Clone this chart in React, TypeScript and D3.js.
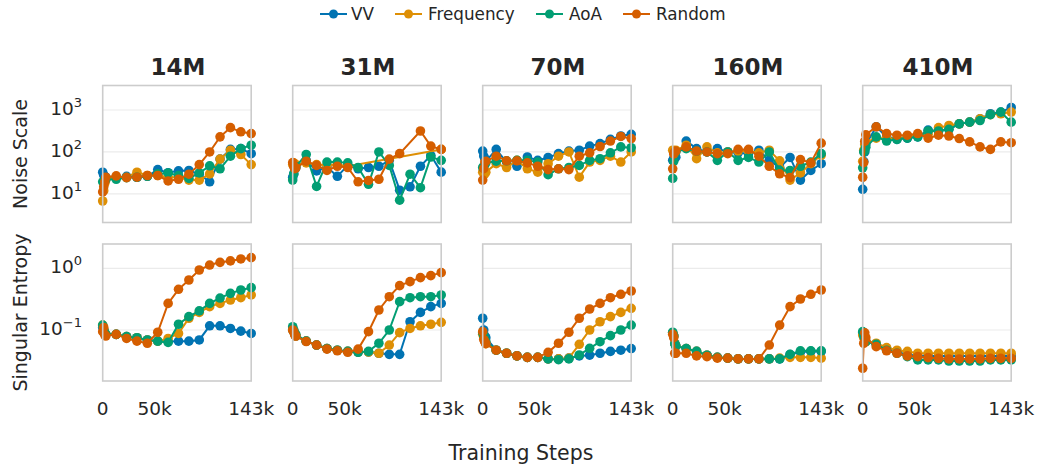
import React from 'react';
import * as d3 from 'd3';

const steps = [0, 1000, 2000, 3000, 13000, 23000, 33000, 43000, 53000, 63000, 73000, 83000, 93000, 103000, 113000, 123000, 133000, 143000];
const models = ['14M', '31M', '70M', '160M', '410M'];
const seriesNames = ['VV', 'Frequency', 'AoA', 'Random'];
const seriesColors = ['#0173b2', '#de8f05', '#029e73', '#d55e00'];
const xTickValues = [0, 50000, 143000];
const xTickLabels = ['0', '50k', '143k'];
const noiseTicks = [10, 100, 1000];
const noiseTickExp = ['1', '2', '3'];
const entropyTicks = [0.1, 1];
const entropyTickExp = ['\u22121', '0'];

type V = number | null;

// Noise scale, one row per model (14M, 31M, 70M, 160M, 410M)
const noiseVV: V[][] = [
  [33, 28, 26, 25, 24.5, 26.3, 25, 26.3, 38, 32, 35.5, 36.3, 29.5, 19.5, 67.6, 115, 120, 91],
  [25.1, 30, 40, 42, 63.1, 35.5, 43.7, 26.3, 47.9, 39.8, 42.7, 45.7, 63.1, 12.3, 14.8, 45.7, 83.2, 33.1],
  [105, 80, 70, 60, 115, 57.5, 45.7, 75.9, 63.1, 74.1, 91.2, 105, 110, 138, 158, 200, 240, 263],
  [63.1, 70, 80, 75, 182, 120, 100, 120, 100, 95.5, 91.2, 110, 63.1, 42.7, 74.1, 21.4, 36.3, 52.5],
  [12.9, 60, 100, 150, 398, 229, 200, 214, 229, 331, 316, 347, 468, 513, 617, 813, 891, 1148],
];
const noiseFreq: V[][] = [
  [6.8, 12, 18, 22, 25, 25, 33, 27.5, 27.5, 25, 25, 21.4, 21.4, 30, 67.6, 110, 87, 50],
  [50, 55, 52, 50, 55, 50, 48, 50, 46, null, null, null, null, null, null, null, null, 115],
  [33, 35, 30, 33, 52.5, 42.7, 63.1, 39.8, 33.1, 52.5, 79.4, 100, 25.1, 57.5, 63.1, 79.4, 57.5, 100],
  [110, 100, 105, 110, 145, 69.2, 132, 95.5, 100, 105, 105, 95.5, 110, 61.7, 21.4, 31.6, 52.5, 83.2],
  [60, 110, 150, 170, 214, 209, 209, 234, 251, 263, 380, 427, 468, 513, 617, 776, 813, 891],
];
const noiseAoA: V[][] = [
  [19.5, 20, 21, 22, 22.4, 24.5, 25, 26.3, 30, 31.6, 27.5, 23.4, 31.6, 46.8, 39.8, 79.4, 120, 145],
  [21.4, 30, 40, 45, 87, 15.1, 57.5, 57.5, 55, 42.7, 17, 100, 47.9, 7.1, 29.5, 14.1, 75.9, 63.1],
  [42.7, 45, 50, 55, 60.3, 61.7, 63.1, 63.1, 57.5, 28.8, 39.8, 42.7, 47.9, 63.1, 69.2, 95.5, 132, 126],
  [23.4, 60, 90, 100, 120, 105, 100, 63.1, 100, 63.1, 74.1, 57.5, 100, 36.3, 36.3, 45.7, 57.5, 91.2],
  [42, 100, 110, 130, 229, 182, 200, 214, 229, 316, 316, 347, 468, 513, 560, 776, 891, 513],
];
const noiseRandom: V[][] = [
  [11.2, 14.8, 19.5, 25, 26.9, 24.5, 25.1, 27.5, 27.5, 20.4, 22.4, 29.5, 50, 100, 229, 380, 302, 275],
  [56, 45, 40, 42, 60.3, 47.9, 36.3, 45.7, 42.7, 19.5, 21, 22.4, 67.6, 91.2, null, 316, 138, 115],
  [21.4, 40, 57.5, 60, 79.4, 61.7, 61.7, 55, 45.7, 38, 39.8, 38, 79.4, 95.5, 135, 182, 234, 209],
  [39.8, 90, 100, 105, 132, 105, 100, 91, 91, 115, 115, 79.4, 45.7, 30.2, 24.5, 66.1, 55, 162],
  [25, 56, 180, 257, 398, 275, 251, 251, 275, 214, 251, 240, 209, 174, 132, 115, 174, 166],
];

// Singular entropy, one row per model
const entVV: V[][] = [
  [0.11, 0.1, 0.09, 0.085, 0.085, 0.078, 0.075, 0.069, 0.066, 0.065, 0.066, 0.066, 0.069, 0.117, 0.117, 0.106, 0.096, 0.088],
  [0.1, 0.094, 0.085, 0.08, 0.066, 0.057, 0.05, 0.047, 0.045, 0.044, 0.044, 0.042, 0.0403, 0.0403, 0.136, 0.193, 0.239, 0.27],
  [0.155, 0.1, 0.08, 0.075, 0.047, 0.042, 0.038, 0.036, 0.036, 0.034, 0.034, 0.035, 0.038, 0.039, 0.042, 0.045, 0.047, 0.05],
  [0.09, 0.08, 0.06, 0.055, 0.05, 0.045, 0.039, 0.036, 0.035, 0.034, 0.034, 0.034, 0.034, 0.034, 0.04, 0.044, 0.045, 0.045],
  [0.09, 0.08, 0.07, 0.065, 0.06, 0.05, 0.044, 0.04, 0.0384, 0.038, 0.038, 0.038, 0.038, 0.038, 0.038, 0.038, 0.038, 0.038],
];
const entFreq: V[][] = [
  [0.12, 0.1, 0.09, 0.085, 0.085, 0.078, 0.075, 0.069, 0.066, 0.073, 0.088, 0.155, 0.193, 0.239, 0.27, 0.306, 0.334, 0.37],
  [0.1, 0.094, 0.085, 0.08, 0.066, 0.057, 0.05, 0.047, 0.045, 0.044, 0.044, 0.042, 0.057, 0.0906, 0.106, 0.117, 0.124, 0.133],
  [0.085, 0.075, 0.065, 0.06, 0.047, 0.042, 0.038, 0.036, 0.036, 0.034, 0.034, 0.035, 0.0586, 0.1, 0.136, 0.165, 0.193, 0.225],
  [0.09, 0.08, 0.06, 0.055, 0.05, 0.045, 0.039, 0.036, 0.035, 0.034, 0.034, 0.034, 0.034, 0.035, 0.036, 0.036, 0.036, 0.035],
  [0.083, 0.075, 0.07, 0.065, 0.061, 0.052, 0.047, 0.045, 0.042, 0.042, 0.042, 0.042, 0.042, 0.042, 0.042, 0.042, 0.042, 0.042],
];
const entAoA: V[][] = [
  [0.12, 0.1, 0.09, 0.085, 0.085, 0.078, 0.075, 0.069, 0.066, 0.063, 0.124, 0.165, 0.204, 0.27, 0.33, 0.393, 0.445, 0.486],
  [0.113, 0.1, 0.09, 0.085, 0.066, 0.057, 0.05, 0.047, 0.045, 0.0435, 0.045, 0.061, 0.1, 0.288, 0.334, 0.347, 0.347, 0.37],
  [0.09, 0.08, 0.07, 0.065, 0.047, 0.042, 0.038, 0.036, 0.036, 0.034, 0.033, 0.034, 0.0394, 0.0505, 0.0646, 0.081, 0.1, 0.12],
  [0.092, 0.08, 0.06, 0.055, 0.05, 0.045, 0.039, 0.036, 0.035, 0.034, 0.034, 0.034, 0.034, 0.034, 0.0403, 0.046, 0.046, 0.046],
  [0.094, 0.08, 0.07, 0.065, 0.0586, 0.047, 0.042, 0.037, 0.0327, 0.0327, 0.0327, 0.0314, 0.0314, 0.0314, 0.0314, 0.0327, 0.0327, 0.0327],
];
const entRandom: V[][] = [
  [0.094, 0.11, 0.083, 0.08, 0.085, 0.073, 0.066, 0.061, 0.092, 0.27, 0.457, 0.647, 0.94, 1.13, 1.25, 1.32, 1.42, 1.49],
  [0.1, 0.094, 0.083, 0.08, 0.065, 0.057, 0.049, 0.046, 0.0435, 0.049, 0.094, 0.211, 0.347, 0.524, 0.608, 0.706, 0.761, 0.851],
  [0.094, 0.07, 0.065, 0.06, 0.047, 0.042, 0.038, 0.036, 0.036, 0.0435, 0.061, 0.092, 0.155, 0.219, 0.27, 0.334, 0.379, 0.429],
  [0.085, 0.075, 0.042, 0.042, 0.042, 0.038, 0.037, 0.035, 0.035, 0.034, 0.034, 0.034, 0.057, 0.12, 0.239, 0.318, 0.379, 0.445],
  [0.024, 0.061, 0.09, 0.075, 0.0537, 0.046, 0.042, 0.038, 0.037, 0.0356, 0.0347, 0.0339, 0.0339, 0.0339, 0.0339, 0.0347, 0.0347, 0.0347],
];

const noiseSeries = [noiseVV, noiseFreq, noiseAoA, noiseRandom];
const entSeries = [entVV, entFreq, entAoA, entRandom];

const FONT = 'DejaVu Sans';
const TEXT = '#262626';

export default function App() {
  const W = 1038;
  const H = 465;
  const left0 = 102.7;
  const colStep = 190;
  const pw = 148.5;
  const R = 4.8;
  const rows = [
    { y0: 85.5, y1: 222.5, scale: d3.scaleLog().domain([2.09, 3830]).range([222.5, 85.5]), data: noiseSeries, ticks: noiseTicks, exps: noiseTickExp, label: 'Noise Scale' },
    { y0: 244, y1: 381, scale: d3.scaleLog().domain([0.0149, 2.48]).range([381, 244]), data: entSeries, ticks: entropyTicks, exps: entropyTickExp, label: 'Singular Entropy' },
  ];

  const legendItems = [
    { x: 320, tx: 351 },
    { x: 395, tx: 428 },
    { x: 536, tx: 569 },
    { x: 623, tx: 656 },
  ];

  return (
    <svg width={W} height={H} style={{ position: 'absolute', left: 0, top: 0, background: '#fff' }} fontFamily={FONT}>
      {/* legend */}
      {seriesNames.map((s, i) => (
        <g key={s}>
          <line x1={legendItems[i].x} x2={legendItems[i].x + 27} y1={14} y2={14} stroke={seriesColors[i]} strokeWidth={2} />
          <circle cx={legendItems[i].x + 13.5} cy={14} r={4.5} fill={seriesColors[i]} />
          <text x={legendItems[i].tx} y={20} fontSize={16.8} fill={TEXT}>{s}</text>
        </g>
      ))}

      {models.map((m, c) => {
        const lx = left0 + c * colStep;
        const x = d3.scaleLinear().domain([0, 143000]).range([lx, lx + pw]);
        return (
          <g key={m}>
            <text x={lx + pw / 2 + 1} y={75} fontSize={23} fontWeight="bold" textAnchor="middle" fill={TEXT}>{m}</text>
            {rows.map((r, ri) => {
              const line = d3.line<[number, number]>().x(d => x(d[0])).y(d => r.scale(d[1]));
              return (
                <g key={ri}>
                  <rect x={lx} y={r.y0} width={pw} height={r.y1 - r.y0} fill="#fff" />
                  {r.ticks.map(t => (
                    <line key={t} x1={lx} x2={lx + pw} y1={r.scale(t)} y2={r.scale(t)} stroke="#ebebeb" strokeWidth={1.2} />
                  ))}
                  {r.data.map((series, si) => {
                    const pts: [number, number][] = [];
                    series[c].forEach((v, k) => { if (v != null) pts.push([steps[k], v]); });
                    return (
                      <g key={si}>
                        <path d={line(pts) || ''} fill="none" stroke={seriesColors[si]} strokeWidth={2} />
                        {pts.map((p, k) => (
                          <circle key={k} cx={x(p[0])} cy={r.scale(p[1])} r={R} fill={seriesColors[si]} />
                        ))}
                      </g>
                    );
                  })}
                  <rect x={lx} y={r.y0} width={pw} height={r.y1 - r.y0} fill="none" stroke="#cccccc" strokeWidth={1.6} />
                  {c === 0 && r.ticks.map((t, ti) => (
                    <text key={t} x={82} y={r.scale(t) + 5} fontSize={18.5} textAnchor="end" fill={TEXT}>
                      <tspan>10</tspan>
                      <tspan dy={-8} fontSize={13}>{r.exps[ti]}</tspan>
                    </text>
                  ))}
                  {ri === 1 && xTickValues.map((t, ti) => (
                    <text key={t} x={x(t)} y={415} fontSize={18.5} textAnchor="middle" fill={TEXT}>{xTickLabels[ti]}</text>
                  ))}
                </g>
              );
            })}
          </g>
        );
      })}

      {rows.map((r, ri) => (
        <text key={ri} transform={`translate(27,${(r.y0 + r.y1) / 2}) rotate(-90)`} fontSize={19} textAnchor="middle" fill={TEXT}>{r.label}</text>
      ))}
      <text x={521} y={460} fontSize={20.5} textAnchor="middle" fill={TEXT}>Training Steps</text>
    </svg>
  );
}
